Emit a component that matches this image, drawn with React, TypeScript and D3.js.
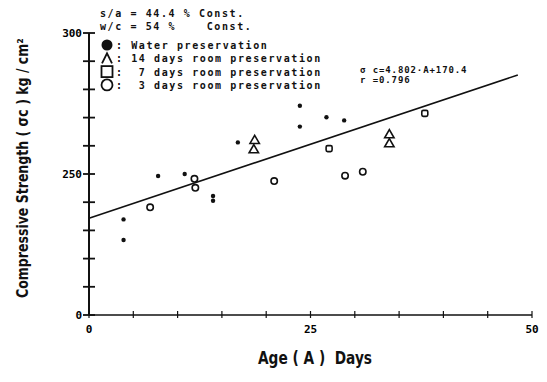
import { useEffect, useRef } from 'react';
import * as d3 from 'd3';

// Age (days) / compressive strength (kg/cm2)
const waterAge = [3.9, 3.9, 7.8, 10.8, 14.0, 14.0, 16.8, 23.8, 23.8, 26.8, 28.8];
const waterStrength = [233.9, 226.6, 249.3, 250.0, 242.2, 240.5, 261.2, 274.2, 266.8, 270.1, 269.0];

const room14Age = [18.7, 18.6, 33.9, 33.9];
const room14Strength = [261.8, 258.5, 263.8, 260.6];

const room7Age = [27.1, 37.9];
const room7Strength = [259.0, 271.5];

const room3Age = [6.9, 11.9, 12.0, 20.9, 28.9, 30.9];
const room3Strength = [238.2, 248.3, 245.1, 247.5, 249.4, 250.8];

// regression line as drawn on the sheet
const fitAge = [0, 48.4];
const fitIntercept = 234.3;
const fitSlope = 1.05;

const xTicks = d3.range(0, 51, 5);
const xTickLabels = [
  { v: 0, t: '0' },
  { v: 25, t: '25' },
  { v: 50, t: '50' },
];
const yTicks = d3.range(200, 301, 10);
const yTickLabels = [
  { v: 300, t: '300' },
  { v: 250, t: '250' },
  { v: 200, t: '0' },
];

const headerLines = ['s/a = 44.4 % Const.', 'w/c = 54 %    Const.'];
const legendItems = [
  { kind: 'dot', text: ': Water preservation' },
  { kind: 'caret', text: ': 14 days room preservation' },
  { kind: 'square', text: ':  7 days room preservation' },
  { kind: 'circle', text: ':  3 days room preservation' },
];
const equationLines = ['σ c=4.802·A+170.4', 'r =0.796'];

const mono = '"DejaVu Sans Mono", monospace';
const sans = '"DejaVu Sans", sans-serif';

export default function App() {
  const svgRef = useRef<SVGSVGElement>(null);

  useEffect(() => {
    if (!svgRef.current) return;
    const width = 547;
    const height = 382;
    const svg = d3.select(svgRef.current);
    svg.selectAll('*').remove();
    svg.attr('width', width).attr('height', height);

    svg.append('rect').attr('width', width).attr('height', height).attr('fill', '#fff');

    const x = d3.scaleLinear().domain([0, 50]).range([89, 532]);
    const y = d3.scaleLinear().domain([200, 300]).range([315, 33]);

    const g = svg.append('g');

    // Y axis
    g.append('line')
      .attr('x1', x(0)).attr('x2', x(0))
      .attr('y1', y(300)).attr('y2', y(200))
      .attr('stroke', '#111').attr('stroke-width', 2);
    g.selectAll('.ytick')
      .data(yTicks)
      .enter()
      .append('line')
      .attr('x1', x(0) - 6).attr('x2', x(0) + 6)
      .attr('y1', d => y(d)).attr('y2', d => y(d))
      .attr('stroke', '#111').attr('stroke-width', 1.8);
    g.selectAll('.ylab')
      .data(yTickLabels)
      .enter()
      .append('text')
      .attr('x', x(0) - 7)
      .attr('y', d => y(d.v) + 4)
      .attr('text-anchor', 'end')
      .attr('font-family', mono)
      .attr('font-weight', 'bold')
      .attr('font-size', 11)
      .text(d => d.t);

    // X axis
    g.append('line')
      .attr('x1', x(0)).attr('x2', x(50))
      .attr('y1', y(200)).attr('y2', y(200))
      .attr('stroke', '#111').attr('stroke-width', 1.6);
    g.selectAll('.xtick')
      .data(xTicks)
      .enter()
      .append('line')
      .attr('x1', d => x(d)).attr('x2', d => x(d))
      .attr('y1', y(200) - 4).attr('y2', y(200) + 3)
      .attr('stroke', '#111').attr('stroke-width', 1.2);
    g.selectAll('.xlab')
      .data(xTickLabels)
      .enter()
      .append('text')
      .attr('x', d => x(d.v))
      .attr('y', y(200) + 18)
      .attr('text-anchor', 'middle')
      .attr('font-family', mono)
      .attr('font-weight', 'bold')
      .attr('font-size', 11)
      .text(d => d.t);

    // regression line
    const fit = fitAge.map(a => ({ a, s: fitIntercept + fitSlope * a }));
    g.append('path')
      .datum(fit)
      .attr('d', d3.line<{ a: number; s: number }>().x(d => x(d.a)).y(d => y(d.s)))
      .attr('stroke', '#111')
      .attr('stroke-width', 1.6)
      .attr('fill', 'none');

    // water: small filled dots
    g.selectAll('.water')
      .data(waterAge.map((a, i) => ({ a, s: waterStrength[i] })))
      .enter()
      .append('circle')
      .attr('cx', d => x(d.a))
      .attr('cy', d => y(d.s))
      .attr('r', 2.2)
      .attr('fill', '#111');

    // 14 days: open triangles
    const tri = d3.symbol().type(d3.symbolTriangle).size(38);
    g.selectAll('.r14')
      .data(room14Age.map((a, i) => ({ a, s: room14Strength[i] })))
      .enter()
      .append('path')
      .attr('d', tri)
      .attr('transform', d => `translate(${x(d.a)},${y(d.s)})`)
      .attr('fill', 'none')
      .attr('stroke', '#111')
      .attr('stroke-width', 1.6);

    // 7 days: open squares
    g.selectAll('.r7')
      .data(room7Age.map((a, i) => ({ a, s: room7Strength[i] })))
      .enter()
      .append('rect')
      .attr('x', d => x(d.a) - 3)
      .attr('y', d => y(d.s) - 3)
      .attr('width', 6)
      .attr('height', 6)
      .attr('rx', 1.5)
      .attr('fill', 'none')
      .attr('stroke', '#111')
      .attr('stroke-width', 1.6);

    // 3 days: open circles
    g.selectAll('.r3')
      .data(room3Age.map((a, i) => ({ a, s: room3Strength[i] })))
      .enter()
      .append('circle')
      .attr('cx', d => x(d.a))
      .attr('cy', d => y(d.s))
      .attr('r', 3.2)
      .attr('fill', 'none')
      .attr('stroke', '#111')
      .attr('stroke-width', 1.6);

    // header + legend
    const textStyle = (sel: d3.Selection<SVGTextElement, any, any, any>) =>
      sel.attr('font-family', mono)
        .attr('font-weight', 'bold')
        .attr('font-size', 10)
        .attr('letter-spacing', 1.6)
        .attr('fill', '#111')
        .style('white-space', 'pre');

    headerLines.forEach((t, i) => {
      g.append('text').attr('x', 100).attr('y', 17 + i * 13).text(t).call(textStyle);
    });

    legendItems.forEach((item, i) => {
      const cy = 45 + i * 13.3;
      const cx = 107;
      if (item.kind === 'dot') {
        g.append('circle').attr('cx', cx).attr('cy', cy).attr('r', 5.5).attr('fill', '#111');
      } else if (item.kind === 'caret') {
        g.append('path')
          .attr('d', `M${cx - 5},${cy + 5}L${cx},${cy - 5}L${cx + 5},${cy + 5}`)
          .attr('fill', 'none').attr('stroke', '#111').attr('stroke-width', 1.8);
      } else if (item.kind === 'square') {
        g.append('rect').attr('x', cx - 5.5).attr('y', cy - 5.5).attr('width', 11).attr('height', 11)
          .attr('fill', 'none').attr('stroke', '#111').attr('stroke-width', 1.8);
      } else {
        g.append('circle').attr('cx', cx).attr('cy', cy).attr('r', 5.5)
          .attr('fill', 'none').attr('stroke', '#111').attr('stroke-width', 1.8);
      }
      g.append('text').attr('x', 116).attr('y', cy + 4).text(item.text).call(textStyle);
    });

    equationLines.forEach((t, i) => {
      g.append('text')
        .attr('x', 360).attr('y', 73 + i * 10)
        .attr('font-family', mono)
        .attr('font-weight', 'bold')
        .attr('font-size', 9)
        .attr('letter-spacing', 0.9)
        .attr('fill', '#111')
        .text(t);
    });

    // axis titles, squeezed horizontally like the condensed lettering on the sheet
    const xTitle = g.append('text')
      .attr('font-family', sans)
      .attr('font-weight', 'bold')
      .attr('font-size', 17)
      .attr('fill', '#111')
      .style('white-space', 'pre')
      .text('Age ( A )  Days');
    const xw = (xTitle.node() as SVGTextElement).getComputedTextLength() || 150;
    xTitle.attr('transform', `translate(258,364) scale(${114 / xw},1)`);

    const yTitle = g.append('text')
      .attr('font-family', sans)
      .attr('font-weight', 'bold')
      .attr('font-size', 16)
      .attr('fill', '#111')
      .text('Compressive Strength ( σc ) kg / cm²');
    const yw = (yTitle.node() as SVGTextElement).getComputedTextLength() || 330;
    yTitle.attr('transform', `translate(28,298) rotate(-90) scale(${260 / yw},1)`);
  }, []);

  return (
    <div style={{ position: 'absolute', left: 0, top: 0 }}>
      <svg ref={svgRef} style={{ display: 'block' }} />
    </div>
  );
}
